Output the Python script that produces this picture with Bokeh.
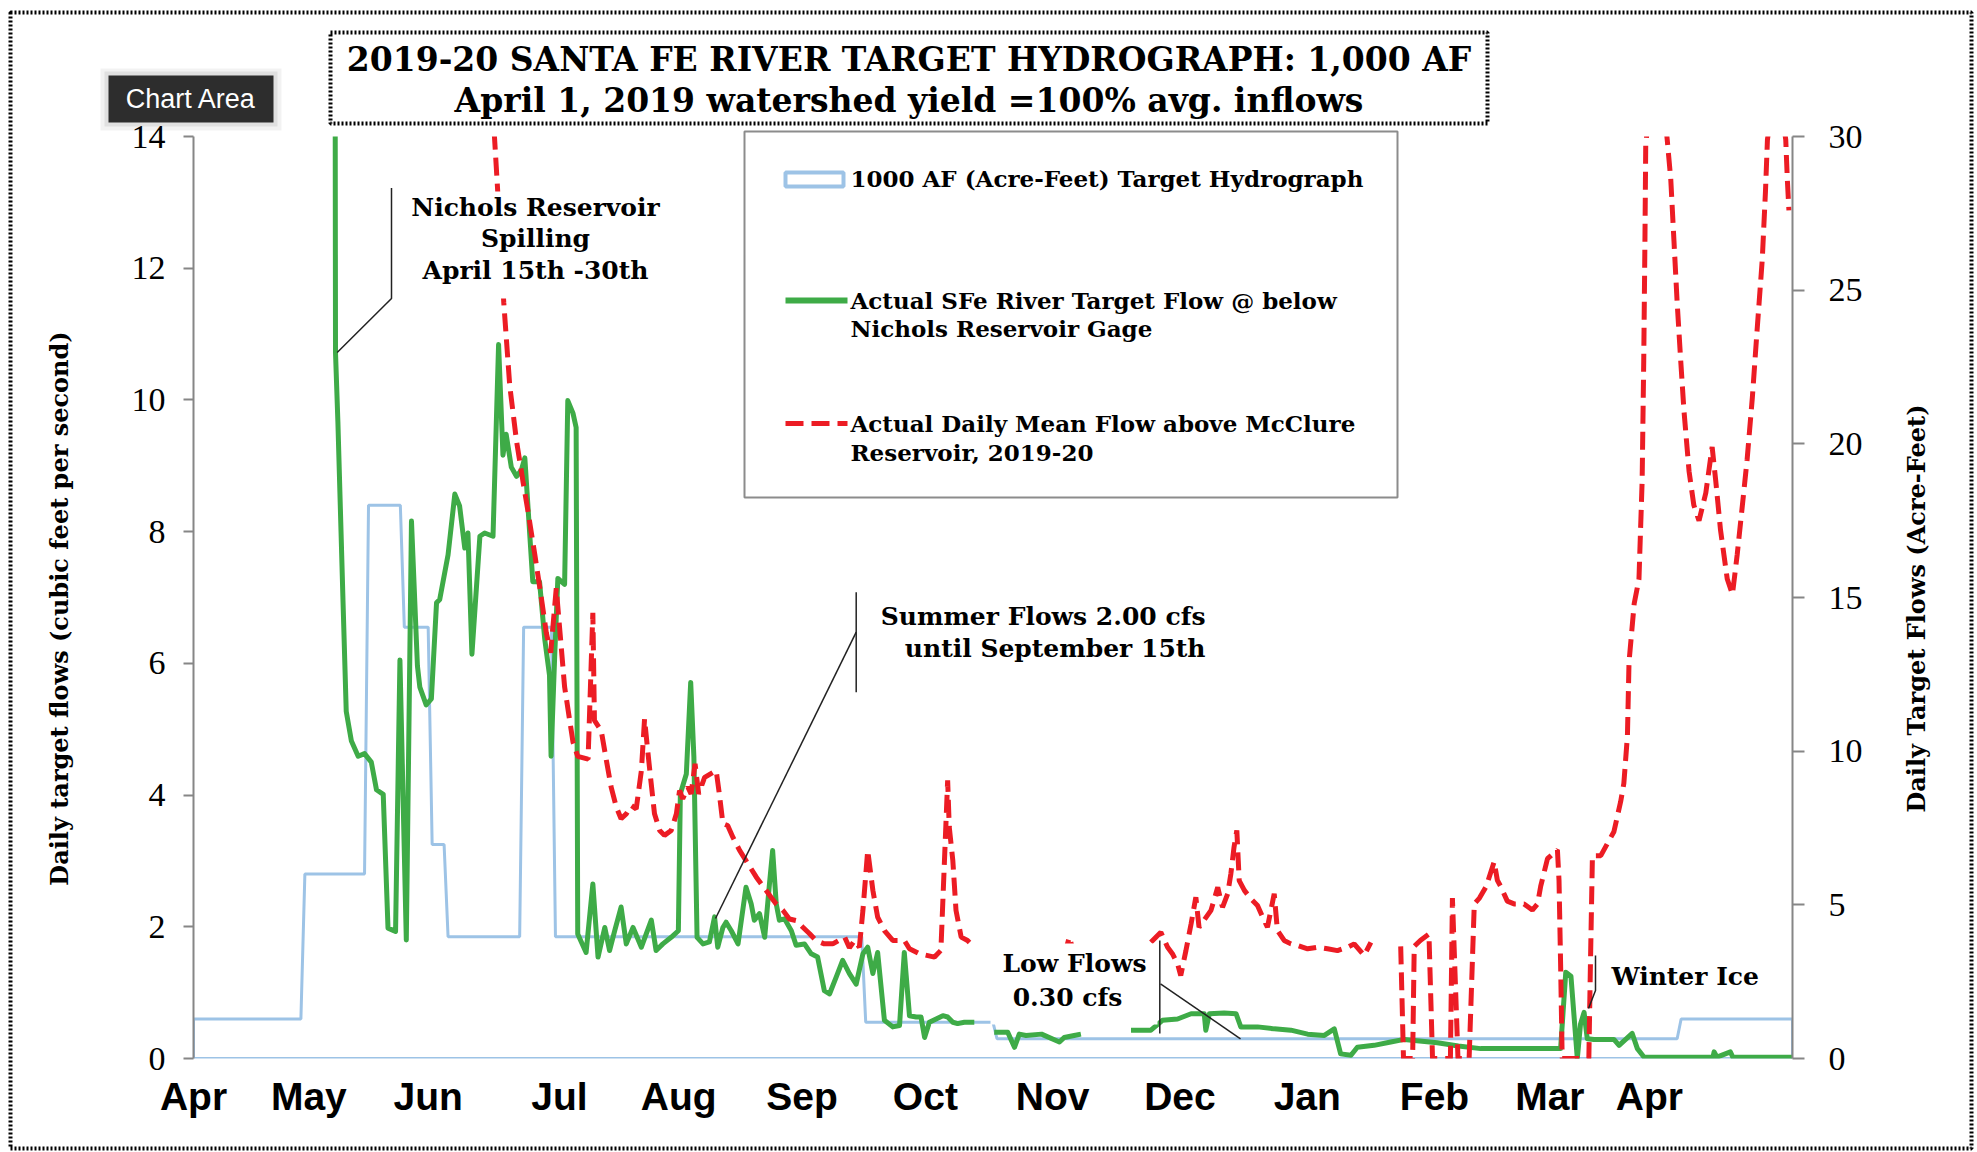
import numpy as np
from math import pi
from bokeh.plotting import figure
from bokeh.layouts import column
from bokeh.models import Range1d, LinearAxis, FixedTicker, Label
from bokeh.embed import file_html
from bokeh.resources import INLINE

NaN = np.nan

# ---------------- data (x = days since 2019-04-01) ----------------
month_labels = ["Apr", "May", "Jun", "Jul", "Aug", "Sep", "Oct", "Nov", "Dec", "Jan", "Feb", "Mar", "Apr"]
month_label_days = [0, 29, 59, 92, 122, 153, 184, 216, 248, 280, 312, 341, 366]

left_ticks = [0, 2, 4, 6, 8, 10, 12, 14]
right_ticks = [0, 5, 10, 15, 20, 25, 30]

# 1000 AF target hydrograph (cfs), drawn as an unfilled area
target_days = [0, 0, 27, 28, 43, 44, 52, 53, 59, 60, 63, 64, 82, 83, 90, 91,
               168, 169, 201, 202, 373, 374, 402, 402]
target_cfs = [0, 0.6, 0.6, 2.8, 2.8, 8.4, 8.4, 6.55, 6.55, 3.25, 3.25, 1.85, 1.85, 6.55, 6.55, 1.85,
              1.85, 0.55, 0.55, 0.3, 0.3, 0.6, 0.6, 0]

# Actual SFe River flow below Nichols Reservoir gage (cfs)
nichols_days = [35.3, 35.7, 36.3, 37.6, 38.4, 39.7, 41.4, 43.0, 44.7, 46.0, 47.7, 48.9, 50.8, 51.9, 53.5,
                54.8, 56.3, 56.9, 58.5, 59.8, 61.1, 61.9, 64.0, 65.7, 66.9, 68.2, 69.0, 70.0, 72.0, 73.2,
                75.3, 76.7, 77.8, 78.6, 79.9, 81.2, 82.4, 83.3, 85.3, 87.0, 88.3, 89.5, 89.9, 90.8, 91.6,
                93.3, 94.1, 95.4, 96.2, 96.6, 98.7, 100.4, 101.7, 103.4, 104.6, 105.9, 107.5, 108.8, 110.5,
                112.6, 113.8, 115.1, 116.3, 118.0, 120.1, 121.9, 122.4, 123.9, 125.0, 125.8, 126.6, 128.1,
                129.7, 131.0, 131.8, 133.1, 133.9, 135.2, 136.9, 138.9, 140.2, 141.0, 142.3, 143.6, 144.8,
                145.6, 146.5, 147.3, 148.6, 150.3, 151.5, 153.6, 155.3, 156.9, 158.6, 159.9, 161.6, 163.2,
                164.9, 166.6, 168.3, 169.5, 170.8, 172.0, 173.7, 175.8, 177.5, 178.7, 180.0, 181.7, 182.9,
                183.8, 185.0, 186.7, 188.4, 189.6, 190.9, 192.1, 193.8, 196.3, NaN,
                201.3, 204.7, 206.4, 207.6, 209.3, 213.2, 217.7, 218.9, 221.4, 223.1, NaN,
                235.7, 240.7, 243.6, 247.4, 250.8, 254.1, 254.5, 255.4, 259.1, 262.1, 263.3, 267.5, 271.7,
                275.9, 280.1, 284.3, 286.8, 288.4, 291.0, 292.6, 296.8, 301.0, 304.4, 312.7, 318.0, 323.6,
                332.0, 343.7, 345.0, 346.3, 347.9, 348.7, 349.6, 350.4, 352.1, 357.1, 358.4, 361.7, 363.0,
                364.7, 382.0, 382.3, 383.0, 386.4, 387.0, 402.0]
nichols_cfs = [30.0, 10.72, 9.67, 6.92, 5.27, 4.82, 4.59, 4.63, 4.5, 4.08, 4.01, 1.98, 1.93, 6.05, 1.8,
               8.16, 5.96, 5.64, 5.37, 5.46, 6.92, 6.97, 7.65, 8.57, 8.39, 7.75, 7.98, 6.14, 7.93, 7.98,
               7.93, 10.84, 9.16, 9.48, 8.98, 8.84, 8.93, 9.12, 7.24, 7.24, 6.37, 5.82, 4.59, 6.1, 7.29,
               7.2, 9.99, 9.8, 9.58, 1.89, 1.61, 2.65, 1.54, 1.99, 1.64, 1.94, 2.3, 1.74, 1.99,
               1.69, 1.89, 2.1, 1.64, 1.74, 1.84, 1.94, 4.02, 4.32, 5.71, 4.58, 1.84, 1.74,
               1.77, 2.15, 1.69, 1.99, 2.07, 1.94, 1.74, 2.6, 2.35, 2.1, 2.2, 1.84, 2.65,
               3.16, 2.35, 2.1, 2.12, 1.94, 1.72, 1.74, 1.59, 1.54, 1.03, 0.98, 1.24, 1.49,
               1.29, 1.13, 1.59, 1.69, 1.29, 1.61, 0.58, 0.48, 0.5, 1.61, 0.65, 0.63, 0.63,
               0.32, 0.55, 0.6, 0.65, 0.63, 0.55, 0.53, 0.55, 0.55, NaN,
               0.40, 0.40, 0.17, 0.37, 0.35, 0.37, 0.25, 0.32, 0.35, 0.37, NaN,
               0.43, 0.43, 0.58, 0.6, 0.68, 0.68, 0.43, 0.68, 0.69, 0.68, 0.48, 0.48, 0.45,
               0.43, 0.37, 0.35, 0.45, 0.07, 0.05, 0.17, 0.2, 0.25, 0.29, 0.24, 0.19, 0.15,
               0.15, 0.15, 1.31, 1.25, 0.0, 0.52, 0.70, 0.3, 0.29, 0.29, 0.2, 0.38, 0.15,
               0.02, 0.02, 0.1, 0.02, 0.1, 0.02, 0.02]

# Actual daily mean flow above McClure Reservoir (acre-feet, right axis)
mcclure_days = [75.2, 76.4, 78.0, 79.5, 81.2, 82.8, 84.1, 85.8, 87.4, 88.7, 89.8, 91.2, 93.3, 95.4, 96.6,
                99.2, 100.4, 100.8, 102.5, 103.8, 105.0, 106.3, 107.5, 108.8, 110.1, 111.3, 112.6, 113.4,
                114.1, 114.9, 115.9, 117.2, 118.4, 120.1, 121.4, 122.2, 123.0, 124.3, 125.1, 126.1, 127.0,
                128.5, 131.4, 132.2, 133.1, 134.3, 135.6, 137.3, 138.9, 141.5, 145.2, 146.5, 148.2, 149.8,
                151.5, 153.2, 154.9, 156.5, 158.6, 160.7, 163.7, 164.9, 166.2, 167.4, 168.3, 169.5, 170.8,
                172.0, 173.7, 175.8, 178.7, 180.0, 182.5, 186.3, 187.9, 189.6, 190.0, 190.9, 191.7, 193.0,
                194.6, 196.3, NaN,
                218.8, 220.2, 221.6, NaN,
                240.7, 243.2, 244.9, 246.1, 247.4, 248.2, 249.5, 250.8, 252.0, 252.8, 255.8, 257.5, 258.7,
                260.0, 260.8, 261.6, 262.3, 262.9, 264.2, 265.8, 267.5, 268.8, 270.0, 271.7, 272.5, 274.2,
                275.9, 277.6, 280.1, 282.6, 285.1, 287.6, 290.1, 291.8, 294.3, 296.0, NaN,
                303.5, 304.2, 306.5, 306.9, 308.5, 310.6, 311.5, 316.0, 316.5, 317.9, 320.7, 322.0, 323.3,
                325.0, 327.0, 327.8, 328.6, 330.3, 332.0, 334.5, 336.6, 337.9, 338.7, 340.4, 342.9, 343.3,
                343.7, 344.1, 350.8, 351.2, 351.7, 353.8, 357.1, 358.8, 359.6, 360.5, 360.9, 362.2, 363.4,
                364.2, 364.6, 364.9, 365.1, 367.8, 370.5, 371.4, 372.2, 373.0, 373.9, 374.7, 376.0, 377.2,
                378.5, 380.2, 381.8, 382.7, 383.9, 385.6, 386.9, 388.1, 389.4, 390.6, 391.9, 393.1, 394.4,
                395.2, 395.7, 398.0, 400.3, 400.7, 401.1]
mcclure_af = [31.0, 28.4, 24.6, 21.9, 20.1, 18.8, 17.8, 16.4, 15.03, 13.85, 13.2, 15.3, 12.09, 10.3, 9.83,
              9.74, 14.5, 11.0, 10.67, 9.7, 8.83, 8.18, 7.8, 7.96, 8.23, 8.12, 9.37, 11.05,
              10.13, 9.15, 7.96, 7.42, 7.26, 7.42, 7.96, 8.72, 8.45, 8.83, 8.61, 9.59, 8.61,
              9.15, 9.37, 8.61, 7.64, 7.58, 7.2, 6.77, 6.44, 5.9, 5.25, 5.03, 4.82, 4.54,
              4.49, 4.27, 4.06, 3.84, 3.73, 3.73, 3.95, 3.6, 3.84, 3.62, 4.82, 6.77, 5.47,
              4.6, 4.16, 3.84, 3.84, 3.57, 3.41, 3.3, 3.52, 9.05, 7.53, 6.44, 4.82, 3.95,
              3.84, 3.62, NaN,
              3.3, 3.95, 3.3, NaN,
              3.78, 4.11, 3.62, 3.41, 3.08, 2.7, 3.51, 4.38, 5.25, 4.27, 4.82, 5.57, 4.92,
              5.36, 6.01, 6.88, 7.42, 5.79, 5.47, 5.2, 4.98, 4.6, 4.27, 5.36, 4.17, 3.84,
              3.73, 3.68, 3.57, 3.62, 3.57, 3.51, 3.62, 3.73, 3.35, 3.78, NaN,
              3.65, 0.0, 0.0, 3.65, 3.85, 4.05, 0.0, 0.0, 5.22, 0.0, 0.0, 5.03, 5.22,
              5.6, 6.4, 5.8, 5.61, 5.12, 5.03, 5.03, 4.83, 5.03, 5.61, 6.5, 6.79, 5.8,
              3.07, 0.0, 0.0, 3.07, 6.6, 6.6, 7.38, 8.36, 8.95, 10.5, 12.9, 14.8, 15.6,
              18.8, 22.7, 26.6, 29.7, 33.5, 29.9, 28.6, 26.6, 24.6, 22.7, 21.1, 19.1, 18.0,
              17.5, 18.4, 19.9, 18.8, 17.2, 15.6, 15.1, 16.4, 18.0, 19.5, 21.5, 23.7, 26.0,
              28.2, 29.9, 32.0, 29.9, 28.6, 27.6]

# ---------------- layout ----------------
W, H = 1975, 1151
FL, FR, FT, FB = 193, 1792, 136, 1058          # frame edges (page px)
X_MAX, Y_MAX, Y2_MAX = 402, 14, 30

BLUE = "#9DC3E6"
GREEN = "#3EAB47"
RED = "#EC1C24"
AXIS_GRAY = "#868686"
SERIF = "DejaVu Serif"

# ---------------- main chart ----------------
p = figure(width=W, height=H, output_backend="svg", toolbar_location=None,
           x_range=Range1d(0, X_MAX), y_range=Range1d(0, Y_MAX),
           min_border_left=FL, min_border_right=W - FR,
           min_border_top=FT, min_border_bottom=H - FB)
p.extra_y_ranges = {"af": Range1d(0, Y2_MAX)}
p.outline_line_color = None
p.xgrid.visible = False
p.ygrid.visible = False
p.background_fill_color = "white"
p.border_fill_color = "white"

xa = p.xaxis[0]
xa.ticker = FixedTicker(ticks=month_label_days)
xa.major_label_overrides = {d: m for d, m in zip(month_label_days, month_labels)}
xa.axis_line_color = None
xa.major_tick_line_color = None
xa.minor_tick_line_color = None
xa.major_label_text_font = "Liberation Sans"
xa.major_label_text_font_style = "bold"
xa.major_label_text_font_size = "39px"
xa.major_label_text_color = "black"
xa.major_label_standoff = 10

ya = p.yaxis[0]
ya.ticker = FixedTicker(ticks=left_ticks)
ya.axis_line_color = AXIS_GRAY
ya.axis_line_width = 2
ya.major_tick_line_color = AXIS_GRAY
ya.major_tick_line_width = 2
ya.major_tick_out = 10
ya.major_tick_in = 0
ya.minor_tick_line_color = None
ya.major_label_text_font = "Liberation Serif"
ya.major_label_text_font_size = "34px"
ya.major_label_text_color = "black"
ya.major_label_standoff = 18

ra = LinearAxis(y_range_name="af", ticker=FixedTicker(ticks=right_ticks))
ra.axis_line_color = AXIS_GRAY
ra.axis_line_width = 2
ra.major_tick_line_color = AXIS_GRAY
ra.major_tick_line_width = 2
ra.major_tick_out = 12
ra.major_tick_in = 0
ra.minor_tick_line_color = None
ra.major_label_text_font = "Liberation Serif"
ra.major_label_text_font_size = "34px"
ra.major_label_text_color = "black"
ra.major_label_standoff = 24
p.add_layout(ra, "right")

p.patch(target_days, target_cfs, fill_color=None, fill_alpha=0, line_color=BLUE, line_width=3)
p.line(nichols_days, nichols_cfs, line_color=GREEN, line_width=5, line_join="round")
p.line(mcclure_days, mcclure_af, y_range_name="af", line_color=RED, line_width=5, line_dash="18 8")

# ---------------- transparent overlay for title, legend and notes (page-pixel coordinates) ----------------
ov = figure(width=W, height=H, output_backend="svg", toolbar_location=None,
            x_range=Range1d(0, W), y_range=Range1d(H, 0),
            x_axis_location=None, y_axis_location=None, min_border=0,
            background_fill_color=None, border_fill_color=None, outline_line_color=None)
ov.grid.visible = False
ov.margin = (-H, 0, 0, 0)
for fig in (p, ov):
    try:
        fig.frame_align = False
    except Exception:
        pass


def rect(l, t, r, b, **kw):
    ov.quad(left=[l], right=[r], top=[t], bottom=[b], **kw)


def seg(xs, ys, **kw):
    ov.line(xs, ys, **kw)


def text(x, y, s, size="25px", font=SERIF, style="bold", align="center", color="black", angle=0):
    ov.add_layout(Label(x=x, y=y, text=s, text_font=font, text_font_style=style,
                        text_font_size=size, text_align=align, text_baseline="middle",
                        text_color=color, angle=angle))


# white backgrounds of the notes (hide lines beneath, as in the original)
rect(405, 191, 668, 298, fill_color="white", line_color=None)
rect(990, 943, 1157, 1024, fill_color="white", line_color=None)

# leader lines
LEAD = dict(line_color="#222222", line_width=1.5)
seg([391, 391, 336.7], [187.5, 298, 352], **LEAD)
seg([855.7, 855.7], [591.7, 691.7], **LEAD)
seg([855.7, 715], [631.7, 918], **LEAD)
seg([1159.3, 1159.3], [940, 1033], **LEAD)
seg([1160, 1240], [983.3, 1038.3], **LEAD)
seg([1595, 1595, 1588], [955, 990, 1008], **LEAD)

# legend
rect(744, 131, 1397, 497, fill_color="white", line_color="#8C8C8C", line_width=2)
rect(785, 172, 843, 186, fill_color=None, line_color=BLUE, line_width=4)
seg([785, 847], [300, 300], line_color=GREEN, line_width=6)
seg([785, 847], [423, 423], line_color=RED, line_width=5, line_dash="18 8")
text(850, 178, "1000 AF (Acre-Feet) Target Hydrograph", size="23px", align="left")
text(850, 300, "Actual SFe River Target Flow @ below", size="23px", align="left")
text(850, 328, "Nichols Reservoir Gage", size="23px", align="left")
text(850, 423, "Actual Daily Mean Flow above McClure", size="23px", align="left")
text(850, 452, "Reservoir, 2019-20", size="23px", align="left")

# title box
rect(330, 32, 1487, 123, fill_color="white", line_color="black", line_width=4, line_dash="2 2")
text(908.5, 59, "2019-20 SANTA FE RIVER TARGET HYDROGRAPH: 1,000 AF", size="33px")
text(908.5, 100, "April 1, 2019 watershed yield =100% avg. inflows", size="33px")

# "Chart Area" hover tag
rect(100, 68, 281, 130, fill_color="black", fill_alpha=0.05, line_color=None)
rect(104, 71, 277, 126, fill_color="black", fill_alpha=0.07, line_color=None)
rect(108, 75, 273, 122, fill_color="#2d2d2d", line_color=None)
text(190.5, 98.5, "Chart Area", size="27px", font="Liberation Sans", style="normal", color="white")

# outer dotted border
rect(10, 12, 1971, 1148, fill_color=None, line_color="black", line_width=4, line_dash="2 2")

# notes
text(535, 207, "Nichols Reservoir")
text(535, 238, "Spilling")
text(535, 270, "April 15th -30th")
text(1205, 616, "Summer Flows 2.00 cfs", align="right")
text(1205, 648, "until September 15th", align="right")
text(1074, 963, "Low Flows")
text(1067, 997, "0.30 cfs")
text(1611, 976, "Winter Ice", align="left")

# axis titles
text(59, 608, "Daily target flows (cubic feet per second)", size="24px", angle=pi / 2)
text(1916, 608, "Daily Target Flows (Acre-Feet)", size="24px", angle=pi / 2)

layout = column(p, ov, spacing=0)
open("out.html", "w").write(file_html(layout, INLINE))
